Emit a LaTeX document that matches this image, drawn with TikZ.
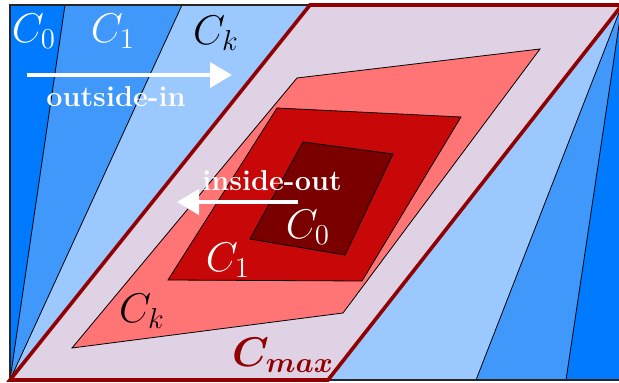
\documentclass[tikz,border=0pt]{standalone}
\usepackage{amsmath,amssymb,bm}
\usepackage{xcolor}
\usetikzlibrary{arrows.meta}
\definecolor{bluezero}{RGB}{0,123,255}
\definecolor{blueone}{RGB}{64,152,250}
\definecolor{bluek}{RGB}{155,200,255}
\definecolor{lavender}{RGB}{222,210,228}
\definecolor{redk}{RGB}{255,117,117}
\definecolor{redone}{RGB}{200,8,8}
\definecolor{redzero}{RGB}{122,0,0}
\definecolor{maxred}{RGB}{145,0,0}

\begin{document}
\begin{tikzpicture}[
  x=0.5pt, y=-0.5pt,
  every node/.style={font=\huge},
  zone/.style={draw=black, line width=0.4pt},
  whitelbl/.style={text=white},
  flowarrow/.style={-{Triangle[length=11pt,width=12.5pt]}, white, line width=2pt},
  flowtext/.style={text=white, font=\Large\bfseries}
]
\useasboundingbox (0,0) rectangle (619,383);
\clip (0,0) rectangle (619,383);
% outer blue layers
\fill[bluezero] (10,5) rectangle (630,380);
\draw[zone, fill=blueone] (10,380) -- (65,5) -- (622,5) -- (566,380) -- cycle;
\draw[zone, fill=bluek] (10,380) -- (182,5) -- (622,5) -- (476,380) -- cycle;
\draw[line width=1pt, black!85] (10,5) rectangle (630,380);
\draw[line width=1.8pt, maxred, fill=lavender] (10,380) -- (310,5) -- (622,5) -- (328,380) -- cycle;
% inner red layers
\draw[zone, fill=redk] (297,78) -- (540,49) -- (343,313) -- (72,348) -- cycle;
\draw[zone, fill=redone] (277,108) -- (461,117) -- (362,281) -- (168,280) -- cycle;
\draw[zone, fill=redzero] (303,142) -- (393,154) -- (345,255) -- (250,239) -- cycle;
% labels
\node[whitelbl] (czeroout) at (34,31) {$C_0$};
\node[whitelbl] (coneout) at (113,31) {$C_1$};
\node (ckout) at (216,33) {$C_k$};
\coordinate (oistart) at (27,75);
\coordinate (oiend) at (232,75);
\draw[flowarrow] (oistart) -- (oiend);
\node[flowtext] (oitext) at (116,97) {outside-in};
\node[flowtext] (iotext) at (272,181) {inside-out};
\coordinate (iostart) at (298,202);
\coordinate (ioend) at (177,202);
\draw[flowarrow] (iostart) -- (ioend);
\node[whitelbl] (czeroin) at (308,227) {$C_0$};
\node[whitelbl] (conein) at (228,260) {$C_1$};
\node (ckin) at (142,311) {$C_k$};
\node[text=maxred, font=\huge] (cmax) at (283,355) {$\boldsymbol{C_{max}}$};
\end{tikzpicture}
\end{document}
